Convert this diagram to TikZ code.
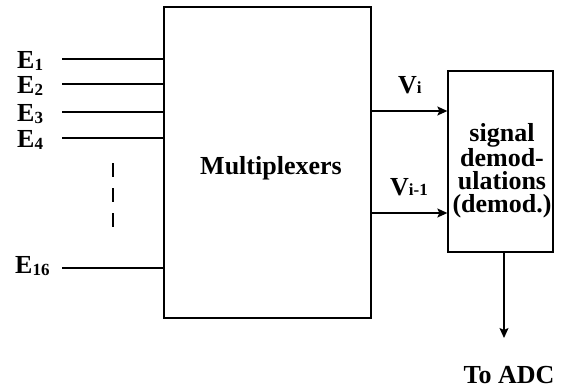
\documentclass[tikz,border=0pt]{standalone}
\usepackage{fontspec}
\setmainfont{Liberation Serif}
\usetikzlibrary{arrows.meta}
\newcommand\lowsub[1]{{\fontsize{17}{17}\selectfont\raisebox{-2pt}{#1}}}
\newcommand\vsub[1]{{\fontsize{17}{17}\selectfont #1}}
\tikzset{
  wire/.style={line width=1.3pt},
  arr/.style={line width=1.3pt,-{Stealth[length=10pt,width=9pt,inset=2pt]}},
  blockbox/.style={draw,line width=1.3pt,rectangle,inner sep=0pt},
  lbl/.style={font=\bfseries\fontsize{26}{23}\selectfont,inner sep=0pt},
}
\begin{document}
\begin{tikzpicture}[x=1pt,y=-1pt]
\useasboundingbox (0,0) rectangle (563,389);
% blocks
\node[blockbox,minimum width=207pt,minimum height=311pt] (mux) at (267.5,162.5) {};
\node[lbl] (muxlabel) at (271,168) {Multiplexers};
\node[blockbox,minimum width=105pt,minimum height=181pt] (demod) at (500.5,161.5) {};
\node[lbl,align=center] (demodlabel) at (502,171) {signal\\demod-\\ulations\\(demod.)};
% inputs
\coordinate (e1) at (62,59);
\coordinate (e2) at (62,84);
\coordinate (e3) at (62,112);
\coordinate (e4) at (62,138);
\coordinate (e16) at (62,268);
\foreach \c in {e1,e2,e3,e4,e16} \draw[wire] (\c) -- (\c -| mux.west);
\node[lbl,anchor=base west] (le1) at (17,68) {E\lowsub{1}};
\node[lbl,anchor=base west] (le2) at (17,93) {E\lowsub{2}};
\node[lbl,anchor=base west] (le3) at (17,121) {E\lowsub{3}};
\node[lbl,anchor=base west] (le4) at (17,147) {E\lowsub{4}};
\node[lbl,anchor=base west] (le16) at (15,273) {E\lowsub{16}};
% dots
\coordinate (d1) at (113,163);
\coordinate (d2) at (113,227);
\draw[line width=1.6pt,dash pattern=on 14pt off 11pt] (d1) -- (d2);
% outputs
\coordinate (vi) at (371,111);
\coordinate (vim) at (371,213);
\draw[arr] (vi) -- (vi -| demod.west);
\draw[arr] (vim) -- (vim -| demod.west);
\node[lbl,anchor=base west] (lvi) at (398,93) {V\vsub{i}};
\node[lbl,anchor=base west] (lvim) at (390,195) {V\vsub{i-1}};
% to ADC
\coordinate (adc) at (504,338);
\draw[arr] (demod.south -| adc) -- (adc);
\node[lbl,anchor=base] (ladc) at (509,383) {To ADC};
\end{tikzpicture}
\end{document}
